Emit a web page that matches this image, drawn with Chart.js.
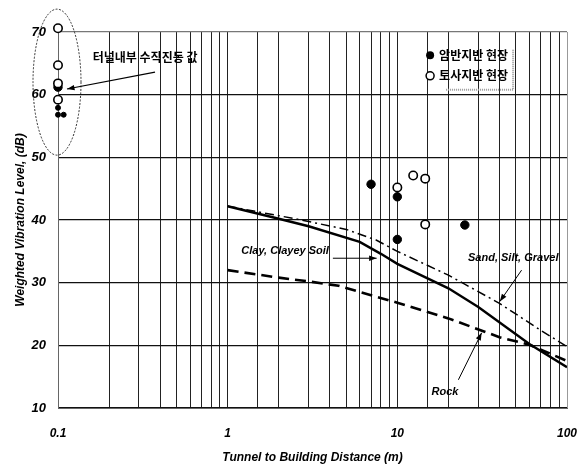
<!DOCTYPE html>
<html>
<head>
<meta charset="utf-8">
<script src="https://cdn.jsdelivr.net/npm/chart.js@4.4.1/dist/chart.umd.min.js"></script>
<style>
  html, body { margin: 0; padding: 0; background: #fff; }
  #wrap { width: 582px; height: 470px; }
</style>
</head>
<body>
<div id="wrap"><canvas id="vibChart" width="582" height="470"></canvas></div>
<script>
// measured sites: [distance (m), level (dB)]
const rockSites = [[0.1, 61.2], [0.1, 57.9], [0.1, 56.8], [0.108, 56.8], [7, 45.7], [10, 43.7], [10, 36.9], [25, 39.2]];
const soilSites = [[0.1, 70.6], [0.1, 64.7], [0.1, 61.8], [0.1, 59.2], [10, 45.2], [12.4, 47.1], [14.6, 46.6], [14.6, 39.3]];

// prediction curves
const clayX = [1, 2, 3, 6, 8, 10, 20, 30, 60, 100];
const clayY = [42.2, 40.2, 39.0, 36.5, 34.6, 33.0, 29.1, 26.1, 20.2, 16.5];
const sandX = [1, 2.5, 5, 7.5, 10, 20, 40, 70, 100];
const sandY = [42.2, 40.2, 38.5, 36.8, 35.0, 31.2, 26.7, 22.4, 19.8];
const rockX = [1, 2, 3, 4.5, 7, 10, 20, 40, 60, 100];
const rockY = [32.0, 30.8, 30.2, 29.5, 28.0, 26.8, 24.3, 21.3, 20.1, 17.5];

const xTickLabels = ['0.1', '1', '10', '100'];
const yTicks = [10, 20, 30, 40, 50, 60, 70];

const legendNames = ['암반지반 현장', '토사지반 현장'];
const curveNames = ['Clay, Clayey Soil', 'Sand, Silt, Gravel', 'Rock'];
const tunnelNote = '터널내부 수직진동 값';

const toPts = (xs, ys) => xs.map((v, i) => ({ x: v, y: ys[i] }));
const pairPts = arr => arr.map(p => ({ x: p[0], y: p[1] }));

function arrow(ctx, x1, y1, x2, y2) {
    const a = Math.atan2(y2 - y1, x2 - x1);
    ctx.beginPath();
    ctx.moveTo(x1, y1);
    ctx.lineTo(x2, y2);
    ctx.stroke();
    ctx.beginPath();
    ctx.moveTo(x2, y2);
    ctx.lineTo(x2 - 8 * Math.cos(a - 0.35), y2 - 8 * Math.sin(a - 0.35));
    ctx.lineTo(x2 - 8 * Math.cos(a + 0.35), y2 - 8 * Math.sin(a + 0.35));
    ctx.closePath();
    ctx.fill();
}

// labels, arrows, ellipse and the inset legend
const notes = {
    id: 'notes',
    afterDatasetsDraw(chart) {
        const { ctx, scales: { x, y } } = chart;
        const px = v => x.getPixelForValue(v);
        const py = v => y.getPixelForValue(v);
        ctx.save();
        ctx.strokeStyle = '#000';
        ctx.fillStyle = '#000';

        // ellipse round the in-tunnel values
        ctx.lineWidth = 0.8;
        ctx.setLineDash([2, 1.5]);
        ctx.beginPath();
        ctx.ellipse(px(0.1) - 1, py(62), 24, 73, 0, 0, Math.PI * 2);
        ctx.stroke();
        ctx.setLineDash([]);

        ctx.font = 'bold 12px "Noto Sans CJK KR"';
        ctx.textBaseline = 'middle';
        ctx.textAlign = 'center';
        ctx.fillText(tunnelNote, px(0.326), py(65.9));
        ctx.lineWidth = 1.2;
        arrow(ctx, px(0.373), py(63.6), px(0.113), py(60.9));

        // curve labels
        ctx.font = 'italic bold 11px "Liberation Sans"';
        ctx.fillText(curveNames[0], px(2.18), py(35.0));
        ctx.fillText(curveNames[1], px(48.2), py(33.9));
        ctx.fillText(curveNames[2], px(19.1), py(12.5));
        ctx.lineWidth = 1;
        arrow(ctx, px(4.17), py(33.9), px(7.55), py(33.9));
        arrow(ctx, px(54), py(32.0), px(40.2), py(27.0));
        arrow(ctx, px(22.9), py(14.5), px(31.4), py(22.0));

        // inset legend
        const lx = px(15.6);
        const ly = [py(66.3), py(63.0)];
        ctx.beginPath();
        ctx.arc(lx, ly[0], 4, 0, Math.PI * 2);
        ctx.fill();
        ctx.fillStyle = '#fff';
        ctx.lineWidth = 1.5;
        ctx.beginPath();
        ctx.arc(lx, ly[1], 4, 0, Math.PI * 2);
        ctx.fill();
        ctx.stroke();
        ctx.fillStyle = '#000';
        ctx.textAlign = 'left';
        ctx.font = 'bold 12px "Noto Sans CJK KR"';
        ctx.fillText(legendNames[0], lx + 9, ly[0]);
        ctx.fillText(legendNames[1], lx + 9, ly[1]);
        ctx.strokeStyle = '#999';
        ctx.lineWidth = 2;
        ctx.setLineDash([1, 1]);
        ctx.beginPath();
        ctx.moveTo(lx + 16, ly[1] + 14);
        ctx.lineTo(lx + 83, ly[1] + 14);
        ctx.lineTo(lx + 83, ly[0] - 6);
        ctx.stroke();
        ctx.restore();
    }
};

const ctx = document.getElementById('vibChart').getContext('2d');
const vibChart = new Chart(ctx, {
    type: 'scatter',
    data: {
        datasets: [{
            label: legendNames[0],
            data: pairPts(rockSites),
            backgroundColor: '#000',
            borderColor: '#000',
            pointRadius: c => (c.raw && c.raw.x < 1 && c.raw.y < 59) ? 2.5 : 4.2,
            clip: false,
            order: 1
        }, {
            label: legendNames[1],
            data: pairPts(soilSites),
            backgroundColor: '#fff',
            borderColor: '#000',
            borderWidth: 1.6,
            pointRadius: 4.2,
            clip: false,
            order: 0
        }, {
            type: 'line',
            label: curveNames[0],
            data: toPts(clayX, clayY),
            borderColor: '#000',
            borderWidth: 2.4,
            pointRadius: 0,
            fill: false,
            order: 3
        }, {
            type: 'line',
            label: curveNames[1],
            data: toPts(sandX, sandY),
            borderColor: '#000',
            borderWidth: 1.5,
            borderDash: [9, 4, 2, 4],
            pointRadius: 0,
            fill: false,
            order: 3
        }, {
            type: 'line',
            label: curveNames[2],
            data: toPts(rockX, rockY),
            borderColor: '#000',
            borderWidth: 2.6,
            borderDash: [11, 6],
            pointRadius: 0,
            fill: false,
            order: 3
        }]
    },
    options: {
        responsive: false,
        animation: false,
        layout: { padding: { left: 0, right: 15, top: 32, bottom: 0 } },
        plugins: {
            legend: { display: false },
            tooltip: { enabled: false }
        },
        scales: {
            x: {
                type: 'logarithmic',
                min: 0.1,
                max: 100,
                afterFit: s => { s.height = 62; s.paddingLeft = 0; s.paddingRight = 12; },
                grid: {
                    color: c => Math.abs(c.tick.value - 100) < 1e-6 ? '#999' : '#222',
                    lineWidth: 1,
                    drawTicks: false
                },
                border: { color: '#666' },
                ticks: {
                    autoSkip: false,
                    maxRotation: 0,
                    padding: 18,
                    color: '#000',
                    font: { family: 'Liberation Sans', size: 12, weight: 'bold', style: 'italic' },
                    callback: v => {
                        const lbl = xTickLabels.find(t => Math.abs(Number(t) - v) < 1e-9);
                        return lbl === undefined ? '' : lbl;
                    }
                },
                title: {
                    display: true,
                    text: 'Tunnel to Building Distance (m)',
                    color: '#000',
                    padding: { top: 0, bottom: 5 },
                    font: { family: 'Liberation Sans', size: 12, weight: 'bold', style: 'italic' }
                }
            },
            y: {
                min: 10,
                max: 70,
                afterFit: s => { s.width = 58; },
                afterBuildTicks: s => { s.ticks = yTicks.map(v => ({ value: v })); },
                grid: {
                    color: c => c.tick.value === 70 ? '#777' : '#111',
                    lineWidth: 1.3,
                    drawTicks: false
                },
                border: { color: '#666' },
                ticks: {
                    padding: 12,
                    color: '#000',
                    font: { family: 'Liberation Sans', size: 13, weight: 'bold', style: 'italic' }
                },
                title: {
                    display: true,
                    text: 'Weighted Vibration Level, (dB)',
                    color: '#000',
                    padding: { top: 13, bottom: 0 },
                    font: { family: 'Liberation Sans', size: 12, weight: 'bold', style: 'italic' }
                }
            }
        }
    },
    plugins: [notes]
});
</script>
</body>
</html>
